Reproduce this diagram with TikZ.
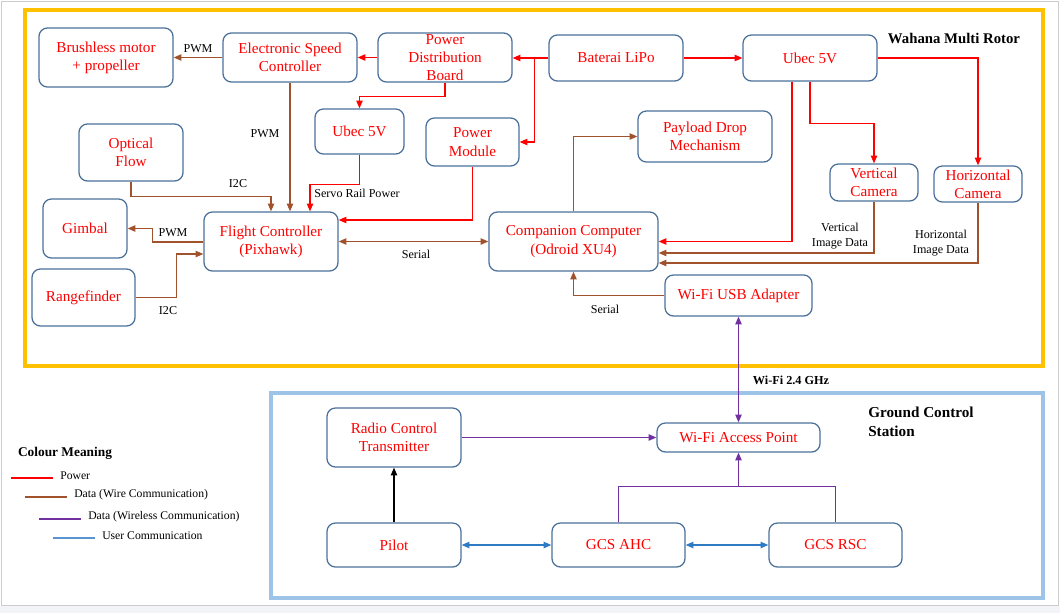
\documentclass[tikz,border=0pt]{standalone}
\usepackage{fontspec}
\setmainfont{Liberation Serif}
\usetikzlibrary{arrows.meta,calc}

\definecolor{pwrred}{HTML}{FF0000}
\definecolor{wirebrown}{HTML}{A0522D}
\definecolor{wlpurple}{HTML}{7030A0}
\definecolor{userblue}{HTML}{2E7BC4}
\definecolor{boxline}{HTML}{4A7099}
\definecolor{uavframe}{HTML}{FFC000}
\definecolor{gcsframe}{HTML}{9DC3E6}
\definecolor{pagegray}{HTML}{F2F4F7}

\tikzset{
  blk/.style={draw=boxline, line width=0.9pt, rounded corners=6pt, inner sep=0pt,
    align=center, text=pwrred, font=\fontsize{10.8}{13}\selectfont},
  sz/.style 2 args={minimum width=#1*0.025cm, minimum height=#2*0.025cm},
  pw/.style={draw=pwrred, line width=0.9pt, ->},
  wd/.style={draw=wirebrown, line width=0.9pt, ->},
  wl/.style={draw=wlpurple, line width=0.9pt, ->},
  usr/.style={draw=userblue, line width=0.9pt, <->},
  lbl/.style={font=\fontsize{8.6}{11}\selectfont, align=center, inner sep=0pt},
  ttl/.style={font=\bfseries\fontsize{10.5}{13.5}\selectfont, align=left, inner sep=0pt},
  leg/.style={font=\fontsize{8.3}{10}\selectfont, anchor=west, inner sep=0pt}
}

\begin{document}
\begin{tikzpicture}[x=0.025cm, y=-0.025cm, >={Triangle[length=5.5pt,width=4.5pt]}]
        % Page and the two frames
        \useasboundingbox (0,0) rectangle (1060,613);
        \fill[pagegray] (0,606) rectangle (1060,613);
        \draw[black!20, line width=0.8pt] (1.5,1.5) rectangle (1058.5,605.5);
        \draw[uavframe, line width=2.2pt] (25,10) rectangle (1043,366);
        \draw[gcsframe, line width=2.2pt] (271,393) rectangle (1043,598);

        % Multi rotor blocks
        \node[blk, sz={134}{59}] (motor) at (106,57.5) {Brushless motor\\+ propeller};
        \node[blk, sz={134}{49}] (esc) at (290,57.5) {Electronic Speed\\Controller};
        \node[blk, sz={134}{49}] (pdb) at (445,57.5) {Power\\Distribution\\Board};
        \node[blk, sz={134}{46}] (lipo) at (616,58) {Baterai LiPo};
        \node[blk, sz={134}{46}] (ubeca) at (810,58) {Ubec 5V};
        \node[blk, sz={104}{57}] (oflow) at (131,152.5) {Optical\\Flow};
        \node[blk, sz={89}{45}] (ubecb) at (359.5,131.5) {Ubec 5V};
        \node[blk, sz={93}{48}] (pmod) at (472.5,142) {Power\\Module};
        \node[blk, sz={134}{51}] (payload) at (705,136.5) {Payload Drop\\Mechanism};
        \node[blk, sz={88}{37}] (vcam) at (874,182.5) {Vertical\\Camera};
        \node[blk, sz={88}{36}] (hcam) at (978,184) {Horizontal\\Camera};
        \node[blk, sz={84}{59}] (gimbal) at (85,228.5) {Gimbal};
        \node[blk, sz={103}{57}] (range) at (83.5,297.5) {Rangefinder};
        \node[blk, sz={134}{59}] (fc) at (271,241.5) {Flight Controller\\(Pixhawk)};
        \node[blk, sz={169}{59}] (cc) at (573.5,241.5) {Companion Computer\\(Odroid XU4)};
        \node[blk, sz={147}{41}] (usb) at (738.5,295.5) {Wi-Fi USB Adapter};

        % Ground station blocks
        \node[blk, sz={134}{59}] (rct) at (394,437.5) {Radio Control\\Transmitter};
        \node[blk, sz={163}{29}] (ap) at (738.5,437.5) {Wi-Fi Access Point};
        \node[blk, sz={134}{44}] (pilot) at (394,545) {Pilot};
        \node[blk, sz={133}{44}] (ahc) at (618.5,545) {GCS AHC};
        \node[blk, sz={133}{44}] (rsc) at (835.5,545) {GCS RSC};

        % Titles
        \node[ttl] (uavtitle) at (954,38) {Wahana Multi Rotor};
        \node[ttl, anchor=west, font=\bfseries\fontsize{10.8}{13.5}\selectfont] (gcstitle) at (868,422) {Ground Control\\Station};

        % Power lines
        \draw[pw] (pdb.west) -- (esc.east);
        \draw[pw] (lipo.west) -- (lipo.west -| pdb.east);
        \coordinate (lipoj) at ($(lipo.west)+(-14,0)$);
        \draw[pw] (lipoj) |- (pmod.east);
        \draw[pw] (lipo.east) -- (lipo.east -| ubeca.west);
        \draw[pw] (pdb.south) -- ++(0,14) -| (ubecb.north);
        \draw[pw] (ubecb.south) -- ++(0,30) -| ($(fc.north)+(39,0)$);
        \draw[pw] (pmod.south) |- ($(fc.east)+(0,-21.5)$);
        \draw[pw] ($(ubeca.south)+(-18,0)$) |- (cc.east);
        \draw[pw] (ubeca.south) -- ++(0,42) -| (vcam.north);
        \draw[pw] (ubeca.east) -| (hcam.north);

        % Wired data lines
        \draw[wd] (esc.west) -- (motor.east) node[lbl, midway, above=3pt] {PWM};
        \draw[wd] (esc.south) -- (esc.south |- fc.north);
        \draw[wd] (oflow.south) -- ++(0,15) -| (fc.north);
        \draw[wd] ($(fc.west)+(0,0.5)$) -- ++(-51,0) |- (gimbal.east);
        \draw[wd] (range.east) -- ++(41,0) |- ($(fc.west)+(0,12.5)$);
        \draw[wd, <->] (fc.east) -- (cc.west);
        \draw[wd] (cc.north) |- (payload.west);
        \draw[wd] (vcam.south) |- ($(cc.east)+(0,11.5)$);
        \draw[wd] (hcam.south) |- ($(cc.east)+(0,21.5)$);
        \draw[wd] (usb.west) -| (cc.south);

        % Connector labels
        \node[lbl] (pwmfc) at (265,134) {PWM};
        \node[lbl] (i2cof) at (238,184) {I2C};
        \node[lbl] (servo) at (357,193) {Servo Rail Power};
        \node[lbl] (pwmgb) at (173,233) {PWM};
        \node[lbl] (i2crf) at (168,311) {I2C};
        \node[lbl] (serfc) at (416,254) {Serial};
        \node[lbl] (serusb) at (605,309) {Serial};
        \node[lbl] (vdata) at (840,236) {Vertical\\Image Data};
        \node[lbl] (hdata) at (941,243) {Horizontal\\Image Data};
        \node[lbl, font=\bfseries\fontsize{8.7}{11}\selectfont] (wifi) at (791,380) {Wi-Fi 2.4 GHz};

        % Wireless and user lines
        \draw[wl, <->] (usb.south) -- (ap.north);
        \draw[wl] (rct.east) -- (ap.west);
        \draw[wl, -] (ahc.north) -- ++(0,-36) coordinate (gcsj) -| (rsc.north);
        \draw[wl] (gcsj -| ap.south) -- (ap.south);
        \draw[black, line width=0.9pt, ->] (pilot.north) -- (rct.south);
        \draw[usr] (pilot.east) -- (ahc.west);
        \draw[usr] (ahc.east) -- (rsc.west);

        % Colour legend
        \node[ttl, font=\bfseries\fontsize{9.5}{11}\selectfont] (legtitle) at (65,453) {Colour Meaning};
        \foreach \y/\dx/\col/\txt in {478/0/pwrred/Power, 497/14/wirebrown/{Data (Wire Communication)},
                                      519/28/wlpurple/{Data (Wireless Communication)}, 538/42/userblue!80/{User Communication}}
        {
          \draw[\col, line width=2pt] (11+\dx,\y) -- (53+\dx,\y);
          \node[leg] at (60+\dx,\y-2) {\txt};
        }
      \end{tikzpicture}
\end{document}
